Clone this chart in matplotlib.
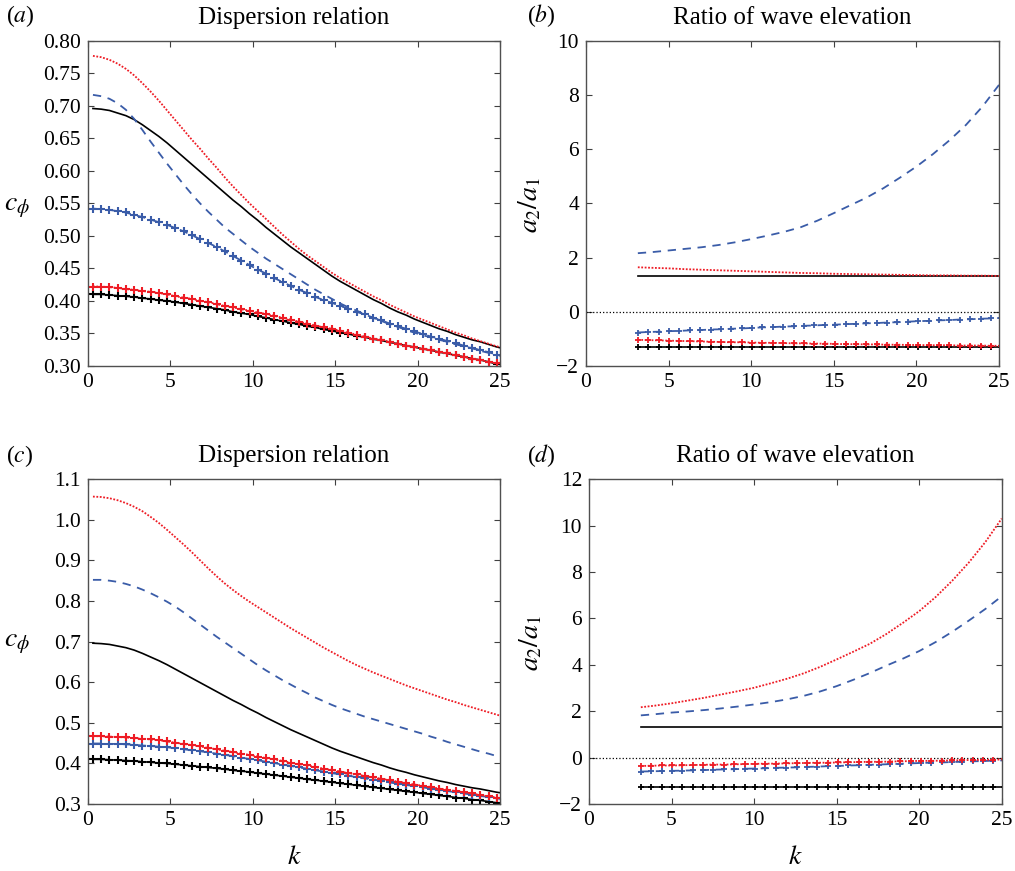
import matplotlib
matplotlib.use("Agg")
import matplotlib.pyplot as plt

plt.rcParams["font.family"] = ["Liberation Serif", "DejaVu Serif"]
plt.rcParams["mathtext.fontset"] = "stix"

RED = "#ee1c25"
BLUE = "#3a5ca8"

# ---- k grids ----
# panels (a) and (c)
k_disp = [0.3, 0.8, 1.3, 1.8, 2.3, 2.8, 3.3, 3.8, 4.3, 4.8, 5.3, 5.8, 6.3, 6.8, 7.3, 7.8,
          8.3, 8.8, 9.3, 9.8, 10.3, 10.8, 11.3, 11.8, 12.3, 12.8, 13.3, 13.8, 14.3, 14.8,
          15.3, 15.8, 16.3, 16.8, 17.3, 17.8, 18.3, 18.8, 19.3, 19.8, 20.3, 20.8, 21.3,
          21.8, 22.3, 22.8, 23.3, 23.8, 24.3, 24.8, 25.3]
# smooth curves, panels (b) and (d)
k_ratio = [3.14, 4, 5, 6, 7, 8, 9, 10, 11, 12, 13, 14, 15, 16, 17, 18, 19, 20, 21, 22, 23,
           24, 25]
# marked curves, panels (b) and (d)
k_rmark = [3.14, 3.77, 4.40, 5.03, 5.65, 6.28, 6.91, 7.54, 8.17, 8.80, 9.42, 10.05, 10.68,
           11.31, 11.94, 12.57, 13.19, 13.82, 14.45, 15.08, 15.71, 16.34, 16.96, 17.59,
           18.22, 18.85, 19.48, 20.11, 20.73, 21.36, 21.99, 22.62, 23.25, 23.88, 24.50,
           25.13]

# ---- panel (a): dispersion relation ----
a_black = [0.696, 0.695, 0.693, 0.689, 0.685, 0.679, 0.671, 0.662, 0.653, 0.643, 0.632,
           0.621, 0.610, 0.599, 0.588, 0.577, 0.566, 0.555, 0.545, 0.534, 0.524, 0.513,
           0.503, 0.493, 0.483, 0.474, 0.465, 0.456, 0.447, 0.438, 0.430, 0.423, 0.416,
           0.409, 0.402, 0.396, 0.389, 0.383, 0.378, 0.372, 0.367, 0.362, 0.357, 0.353,
           0.348, 0.344, 0.340, 0.337, 0.333, 0.329, 0.326]
a_red = [0.777, 0.775, 0.771, 0.765, 0.757, 0.747, 0.735, 0.722, 0.708, 0.693, 0.678,
         0.663, 0.648, 0.634, 0.619, 0.605, 0.590, 0.576, 0.563, 0.550, 0.538, 0.526,
         0.514, 0.502, 0.491, 0.480, 0.470, 0.461, 0.452, 0.443, 0.435, 0.428, 0.421,
         0.414, 0.407, 0.401, 0.394, 0.388, 0.382, 0.376, 0.371, 0.366, 0.361, 0.356,
         0.351, 0.347, 0.342, 0.338, 0.334, 0.330, 0.327]
a_blue = [0.717, 0.715, 0.711, 0.704, 0.694, 0.680, 0.663, 0.645, 0.628, 0.611, 0.595,
          0.579, 0.564, 0.550, 0.537, 0.525, 0.513, 0.503, 0.493, 0.483, 0.474, 0.465,
          0.457, 0.449, 0.441, 0.433, 0.425, 0.417, 0.410, 0.403, 0.396, 0.390, 0.385,
          0.379, 0.374, 0.369, 0.364, 0.360, 0.355, 0.351, 0.347, 0.344, 0.340, 0.337,
          0.333, 0.330, 0.327, 0.323, 0.320, 0.317, 0.314]
a_blue_m = [0.542, 0.541, 0.540, 0.538, 0.536, 0.532, 0.529, 0.525, 0.521, 0.517, 0.512,
            0.507, 0.501, 0.495, 0.489, 0.483, 0.476, 0.469, 0.462, 0.455, 0.448, 0.442,
            0.435, 0.429, 0.423, 0.417, 0.412, 0.406, 0.401, 0.397, 0.392, 0.388, 0.383,
            0.379, 0.374, 0.370, 0.365, 0.361, 0.357, 0.353, 0.349, 0.345, 0.342, 0.338,
            0.335, 0.331, 0.328, 0.324, 0.321, 0.317, 0.314]
a_red_m = [0.422, 0.422, 0.421, 0.420, 0.418, 0.417, 0.415, 0.414, 0.412, 0.410, 0.407,
           0.405, 0.403, 0.400, 0.398, 0.395, 0.392, 0.390, 0.387, 0.385, 0.382, 0.380,
           0.377, 0.374, 0.371, 0.368, 0.365, 0.362, 0.359, 0.357, 0.354, 0.351, 0.348,
           0.345, 0.342, 0.340, 0.337, 0.334, 0.331, 0.329, 0.326, 0.324, 0.321, 0.319,
           0.316, 0.314, 0.311, 0.309, 0.306, 0.304, 0.302]
a_black_m = [0.410, 0.410, 0.409, 0.408, 0.407, 0.406, 0.404, 0.403, 0.401, 0.400, 0.398,
             0.396, 0.394, 0.392, 0.390, 0.388, 0.386, 0.383, 0.381, 0.379, 0.376, 0.374,
             0.371, 0.369, 0.366, 0.364, 0.361, 0.359, 0.356, 0.354, 0.351, 0.349, 0.346,
             0.344, 0.341, 0.339, 0.336, 0.334, 0.331, 0.329, 0.326, 0.324, 0.321, 0.319,
             0.316, 0.314, 0.311, 0.309, 0.306, 0.303, 0.301]

# ---- panel (c): dispersion relation ----
c_red = [1.057, 1.056, 1.053, 1.048, 1.041, 1.032, 1.021, 1.007, 0.992, 0.975, 0.957,
         0.939, 0.920, 0.900, 0.880, 0.861, 0.843, 0.827, 0.812, 0.798, 0.785, 0.772,
         0.759, 0.746, 0.733, 0.721, 0.709, 0.697, 0.685, 0.674, 0.663, 0.652, 0.642,
         0.633, 0.624, 0.616, 0.608, 0.600, 0.592, 0.585, 0.578, 0.571, 0.564, 0.557,
         0.551, 0.544, 0.538, 0.532, 0.526, 0.520, 0.514]
c_blue = [0.852, 0.852, 0.850, 0.847, 0.842, 0.836, 0.828, 0.819, 0.809, 0.798, 0.786,
          0.772, 0.757, 0.742, 0.727, 0.712, 0.698, 0.684, 0.670, 0.656, 0.642, 0.629,
          0.617, 0.605, 0.594, 0.583, 0.573, 0.562, 0.553, 0.544, 0.536, 0.529, 0.522,
          0.515, 0.509, 0.503, 0.497, 0.491, 0.485, 0.479, 0.473, 0.466, 0.460, 0.453,
          0.447, 0.441, 0.435, 0.429, 0.424, 0.418, 0.413]
c_red_m = [0.467, 0.467, 0.466, 0.465, 0.464, 0.462, 0.461, 0.459, 0.457, 0.454, 0.451,
           0.448, 0.445, 0.442, 0.438, 0.435, 0.431, 0.428, 0.424, 0.421, 0.417, 0.413,
           0.410, 0.406, 0.402, 0.398, 0.395, 0.391, 0.387, 0.384, 0.380, 0.376, 0.373,
           0.369, 0.366, 0.362, 0.359, 0.355, 0.352, 0.348, 0.345, 0.342, 0.338, 0.335,
           0.332, 0.329, 0.326, 0.322, 0.319, 0.316, 0.313]
c_blue_m = [0.449, 0.449, 0.448, 0.448, 0.447, 0.446, 0.444, 0.443, 0.441, 0.440, 0.437,
            0.435, 0.432, 0.430, 0.427, 0.424, 0.421, 0.418, 0.414, 0.411, 0.408, 0.404,
            0.401, 0.397, 0.394, 0.390, 0.387, 0.383, 0.380, 0.376, 0.373, 0.370, 0.366,
            0.363, 0.360, 0.357, 0.353, 0.350, 0.347, 0.344, 0.341, 0.338, 0.335, 0.332,
            0.329, 0.326, 0.323, 0.320, 0.317, 0.314, 0.311]

# ---- panel (b): ratio of wave elevation ----
b_blue = [2.16, 2.20, 2.26, 2.32, 2.38, 2.46, 2.56, 2.68, 2.81, 2.95, 3.12, 3.36, 3.64,
          3.93, 4.22, 4.56, 4.95, 5.36, 5.82, 6.33, 6.90, 7.58, 8.38]
b_red = [1.64, 1.62, 1.60, 1.57, 1.55, 1.53, 1.51, 1.49, 1.47, 1.45, 1.43, 1.42, 1.40,
         1.39, 1.38, 1.37, 1.36, 1.35, 1.34, 1.34, 1.33, 1.33, 1.32]
b_black = [1.30, 1.30]
b_blue_m = [-0.77, -0.75, -0.74, -0.72, -0.71, -0.69, -0.68, -0.66, -0.65, -0.63, -0.62,
            -0.60, -0.58, -0.57, -0.55, -0.54, -0.52, -0.51, -0.49, -0.48, -0.46, -0.45,
            -0.43, -0.42, -0.40, -0.39, -0.37, -0.35, -0.34, -0.32, -0.31, -0.29, -0.28,
            -0.26, -0.25, -0.23]
b_red_m = [-1.04, -1.05, -1.06, -1.07, -1.08, -1.09, -1.10, -1.11, -1.12, -1.13, -1.13,
           -1.14, -1.15, -1.15, -1.16, -1.17, -1.17, -1.18, -1.18, -1.19, -1.20, -1.20,
           -1.21, -1.21, -1.22, -1.22, -1.23, -1.23, -1.24, -1.24, -1.24, -1.25, -1.25,
           -1.25, -1.26, -1.26]
b_black_m = [-1.31, -1.31, -1.31, -1.31, -1.31, -1.31, -1.31, -1.31, -1.31, -1.31, -1.31,
             -1.31, -1.31, -1.31, -1.31, -1.31, -1.31, -1.31, -1.31, -1.31, -1.31, -1.31,
             -1.31, -1.31, -1.31, -1.31, -1.31, -1.31, -1.31, -1.31, -1.31, -1.31, -1.31,
             -1.31, -1.31, -1.31]

# ---- panel (d): ratio of wave elevation ----
d_red = [2.17, 2.24, 2.34, 2.46, 2.58, 2.72, 2.86, 3.01, 3.20, 3.40, 3.63, 3.91, 4.23,
         4.56, 4.90, 5.32, 5.80, 6.31, 6.92, 7.62, 8.40, 9.28, 10.30]
d_blue = [1.82, 1.87, 1.94, 1.99, 2.05, 2.12, 2.20, 2.29, 2.39, 2.51, 2.66, 2.85, 3.08,
          3.35, 3.64, 3.96, 4.26, 4.59, 4.98, 5.42, 5.90, 6.40, 6.95]
d_black = [1.31, 1.31]
d_red_m = [-0.36, -0.35, -0.34, -0.34, -0.33, -0.32, -0.31, -0.30, -0.30, -0.29, -0.28,
           -0.27, -0.26, -0.26, -0.25, -0.24, -0.23, -0.22, -0.22, -0.21, -0.20, -0.19,
           -0.18, -0.18, -0.17, -0.16, -0.15, -0.14, -0.14, -0.13, -0.12, -0.11, -0.10,
           -0.10, -0.09, -0.08]
d_blue_m = [-0.60, -0.59, -0.58, -0.57, -0.56, -0.55, -0.54, -0.52, -0.51, -0.50, -0.48,
            -0.47, -0.46, -0.44, -0.43, -0.42, -0.40, -0.39, -0.37, -0.36, -0.34, -0.33,
            -0.31, -0.30, -0.28, -0.27, -0.25, -0.23, -0.22, -0.21, -0.19, -0.18, -0.16,
            -0.15, -0.13, -0.12]
d_black_m = [-1.28, -1.28, -1.28, -1.28, -1.28, -1.28, -1.28, -1.28, -1.28, -1.28, -1.28,
             -1.28, -1.28, -1.28, -1.28, -1.28, -1.28, -1.28, -1.28, -1.28, -1.28, -1.28,
             -1.28, -1.28, -1.28, -1.28, -1.28, -1.28, -1.28, -1.28, -1.28, -1.28, -1.28,
             -1.28, -1.28, -1.28]

DASH = (4.6, 3.7)
DOT = (0, (1, 0.9))
LW = 1.3

fig = plt.figure(figsize=(10.15, 8.71), dpi=100)
ax_a = fig.add_axes([0.0867, 0.580, 0.406, 0.373])
ax_b = fig.add_axes([0.5773, 0.580, 0.407, 0.373])
ax_c = fig.add_axes([0.0867, 0.0769, 0.406, 0.373])
ax_d = fig.add_axes([0.5803, 0.0769, 0.4066, 0.373])


def style(ax):
    ax.set_xlim(0, 25)
    ax.set_xticks([0, 5, 10, 15, 20, 25])
    ax.tick_params(direction="in", top=True, right=True, length=4, width=0.8,
                   labelsize=15.5, color="#404040", pad=5)
    for s in ax.spines.values():
        s.set_color("#505050")
        s.set_linewidth(1.0)


def disp_panel(ax, k, black, red, blue, black_m, red_m, blue_m):
    mk = dict(marker="+", ms=5.5, mew=1.5)
    ax.plot(k, black, color="black", lw=1.2)
    ax.plot(k, blue, color=BLUE, lw=LW, dashes=DASH)
    ax.plot(k, red, color=RED, lw=LW, ls=DOT)
    ax.plot(k, black_m, color="black", lw=1.2, **mk)
    ax.plot(k, blue_m, color=BLUE, lw=LW, dashes=DASH, **mk)
    ax.plot(k, red_m, color=RED, lw=LW, ls=DOT, **mk)
    style(ax)
    ax.set_title("Dispersion relation", fontsize=18, pad=12)


def ratio_panel(ax, k1, black, red, blue, km, black_m, red_m, blue_m):
    mk = dict(marker="+", ms=5, mew=1.3)
    ax.plot([0, 25], [0, 0], color="black", lw=0.9, ls=":")
    ax.plot([k1[0], k1[-1]], black, color="black", lw=1.2)
    ax.plot(k1, blue, color=BLUE, lw=LW, dashes=DASH)
    ax.plot(k1, red, color=RED, lw=LW, ls=DOT)
    ax.plot(km, black_m, color="black", lw=1.2, **mk)
    ax.plot(km, blue_m, color=BLUE, lw=LW, dashes=DASH, **mk)
    ax.plot(km, red_m, color=RED, lw=LW, ls=DOT, **mk)
    style(ax)
    ax.set_title("Ratio of wave elevation", fontsize=18, pad=12)
    ax.set_ylabel(r"$a_2/a_1$", fontsize=20)


disp_panel(ax_a, k_disp, a_black, a_red, a_blue, a_black_m, a_red_m, a_blue_m)
ax_a.set_ylim(0.30, 0.80)
ax_a.set_yticks([0.30, 0.35, 0.40, 0.45, 0.50, 0.55, 0.60, 0.65, 0.70, 0.75, 0.80])
ax_a.set_yticklabels(["0.30", "0.35", "0.40", "0.45", "0.50", "0.55", "0.60", "0.65",
                      "0.70", "0.75", "0.80"])

disp_panel(ax_c, k_disp, a_black, c_red, c_blue, a_black_m, c_red_m, c_blue_m)
ax_c.set_ylim(0.3, 1.1)
ax_c.set_yticks([0.3, 0.4, 0.5, 0.6, 0.7, 0.8, 0.9, 1.0, 1.1])
ax_c.set_yticklabels(["0.3", "0.4", "0.5", "0.6", "0.7", "0.8", "0.9", "1.0", "1.1"])

for ax, yc in [(ax_a, 0.488), (ax_c, 0.495)]:
    ax.set_ylabel(r"$c_\phi$", fontsize=20, rotation=0, va="center", ha="center")
    ax.yaxis.set_label_coords(-0.172, yc)

ratio_panel(ax_b, k_ratio, b_black, b_red, b_blue, k_rmark, b_black_m, b_red_m, b_blue_m)
ax_b.set_ylim(-2, 10)
ax_b.set_yticks([-2, 0, 2, 4, 6, 8, 10])
ax_b.yaxis.set_label_coords(-0.104, 0.495)

ratio_panel(ax_d, k_ratio, d_black, d_red, d_blue, k_rmark, d_black_m, d_red_m, d_blue_m)
ax_d.set_ylim(-2, 12)
ax_d.set_yticks([-2, 0, 2, 4, 6, 8, 10, 12])
ax_d.yaxis.set_label_coords(-0.109, 0.495)

for ax in (ax_c, ax_d):
    ax.set_xlabel(r"$k$", fontsize=20, va="center")
    ax.xaxis.set_label_coords(0.5, -0.166)

# panel letters
for x, y, letter in [(0.006, 0.975, "a"), (0.519, 0.975, "b"),
                     (0.006, 0.470, "c"), (0.519, 0.470, "d")]:
    fig.text(x, y, "(" + r"$\mathit{" + letter + "}$" + ")", fontsize=17, va="baseline")

fig.savefig("out.png", dpi=100)
